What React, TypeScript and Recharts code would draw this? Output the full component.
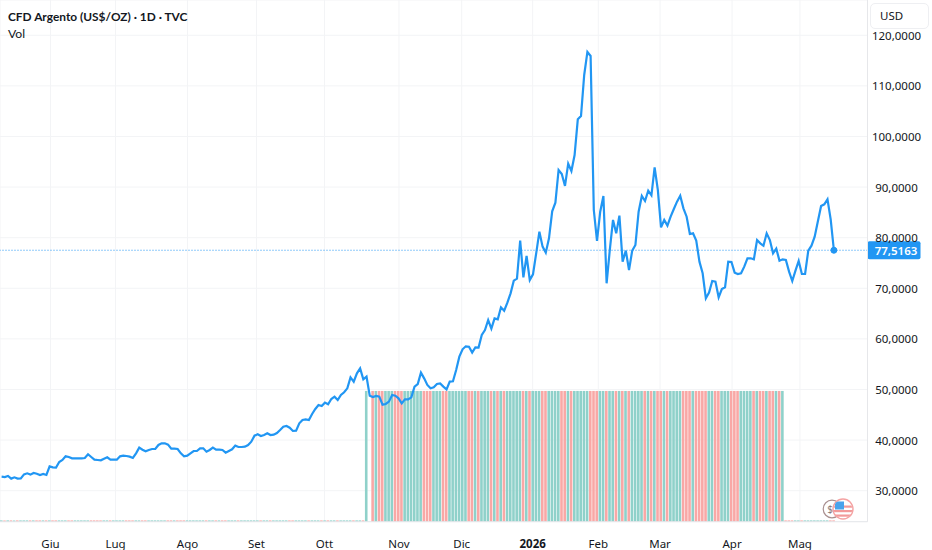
import React from "react";
import {
  ComposedChart, Line, Bar, Cell, XAxis, YAxis, CartesianGrid, ReferenceLine, ReferenceDot,
} from "recharts";

const closesJunAug = [
  32.77, 32.7, 32.9, 32.38, 32.64, 32.38, 32.44, 33.23, 33.43, 33.17, 33.5, 33.36, 33.1, 33.3, 33.1,
  34.81, 34.62, 34.55, 35.67, 36.06, 36.79, 36.66, 36.39, 36.39, 36.39, 36.39, 36.46, 37.2, 36.66, 36.13,
  36.06, 36.0, 36.33, 36.6, 36.13, 36.13, 36.13, 36.79, 36.92, 36.85, 36.72, 36.46, 37.38, 38.5, 38.1,
  37.78, 38.04, 38.24, 38.24, 39.03, 39.36, 39.36, 39.1, 38.3, 38.3, 38.24, 37.38, 36.79, 36.92, 37.38,
  37.84, 37.84, 38.37, 38.37, 37.71, 38.04, 38.5, 38.1, 38.1, 38.04, 37.51, 37.84, 38.17, 38.9, 38.63,
  38.63, 38.7, 39.03, 39.69,
];
const closesSepNov = [
  40.87, 41.14, 40.81, 41.0, 41.34, 41.0, 41.07, 41.4, 42.0, 42.65, 42.78, 42.45, 41.8, 41.86, 43.31,
  43.97, 44.1, 43.97, 45.16, 46.14, 46.93, 46.74, 47.4, 47.07, 48.12, 48.58, 47.92, 48.91, 49.44, 50.23,
  52.4, 51.55, 53.19, 54.18, 52.0, 52.53, 48.78, 48.5, 48.71, 48.58, 47.0, 47.13, 47.6, 48.91, 48.78,
  48.25, 47.26, 48.05, 48.05, 48.45, 50.56, 51.08, 53.32, 52.2, 50.9, 50.23, 50.43, 51.08, 51.2, 50.56,
  50.03, 51.55, 51.61, 53.85, 56.49, 57.94, 58.53, 58.46,
];
const closesDecJan = [
  57.28, 58.33, 58.27, 60.77, 61.76, 63.73, 62.02, 64.06, 63.87, 66.24, 65.58, 67.16, 69.0, 71.5, 71.9,
  79.41, 72.17, 76.38, 71.64, 72.76, 76.91, 81.19, 78.23, 77.04, 79.87, 85.21, 86.92, 93.38, 92.59, 90.22,
  94.63, 93.18, 96.34, 103.39, 104.05, 112.15, 116.7, 115.91,
];
const closesFebMay = [
  85.47, 79.35, 85.14, 88.24, 70.98, 77.57, 83.5, 80.86, 84.35, 75.26, 77.44, 73.62, 77.44, 78.56, 85.14,
  88.24, 87.25, 89.29, 88.37, 93.91, 89.43, 82.05, 83.5, 82.38, 84.16, 85.67, 87.12, 88.3, 85.8, 84.15,
  80.73, 80.86, 79.41, 75.26, 72.96, 68.0, 69.14, 71.44, 71.31, 68.21, 69.86, 70.19, 75.26, 75.2, 73.09,
  72.82, 72.96, 74.27, 75.92, 75.92, 75.72, 79.54, 78.88, 78.42, 80.86, 79.54, 76.91, 77.83, 75.46, 75.72,
  75.59, 73.29, 71.44, 73.48, 75.39, 72.82, 72.82, 77.44, 78.42, 80.2, 83.23, 86.26, 86.59, 87.58, 83.63,
  77.5163,
];
const closes = [...closesJunAug, ...closesSepNov, ...closesDecJan, ...closesFebMay];

const firstFullVolumeDay = 114;
const lastFullVolumeDay = 244;
const fullVolume = 100;
const trailingVolume = 1;
const missingVolumeDay = 115;

const priceTicks = [30, 40, 50, 60, 70, 80, 90, 100, 110, 120];
const monthTicks = [15.28, 35.58, 58.07, 79.63, 100.87, 124.14, 143.73, 165.9, 186.4, 205.7, 228.2, 249.4];
const monthLabels = ["Giu", "Lug", "Ago", "Set", "Ott", "Nov", "Dic", "2026", "Feb", "Mar", "Apr", "Mag"];
const lastPrice = 77.5163;

const rows = closes.map((close, day) => {
  const prev = day > 0 ? closes[day - 1] : close;
  const inFull = day >= firstFullVolumeDay && day <= lastFullVolumeDay;
  return {
    day,
    close,
    volume: day === missingVolumeDay ? 0 : inFull ? fullVolume : trailingVolume,
    up: close >= prev,
  };
});

const BLUE = "#2196f3";
const FONT = "'Noto Sans', sans-serif";
const TITLE_FONT = "Lato, 'Noto Sans', sans-serif";
const TEXT = "#131722";

const comma = (v: number, digits: number) => v.toFixed(digits).replace(".", ",");

function MonthTick(props: any) {
  const { x, y, payload } = props;
  const i = monthTicks.indexOf(payload.value);
  const label = monthLabels[i];
  return (
    <text x={x} y={y + 18} textAnchor="middle" fontFamily={FONT} fontSize={11.5}
      fontWeight={label === "2026" ? 700 : 400} fill={TEXT}>
      {label}
    </text>
  );
}

function PriceTick(props: any) {
  const { y, payload } = props;
  return (
    <text x={896.5} y={y + 4.5} textAnchor="middle" fontFamily={FONT} fontSize={11.5} fill={TEXT}>
      {comma(payload.value, 4)}
    </text>
  );
}

function PriceTag(props: any) {
  const { viewBox } = props;
  const left = viewBox.x + viewBox.width;
  return (
    <g>
      <rect x={left} y={viewBox.y - 9} width={53} height={18} rx={2} fill={BLUE} />
      <text x={left + 28.5} y={viewBox.y + 4.5} textAnchor="middle" fontFamily={FONT}
        fontSize={11.5} fontWeight={600} fill="#ffffff">
        {comma(lastPrice, 4)}
      </text>
    </g>
  );
}

function Badge() {
  return (
    <svg width={40} height={28} style={{ position: "absolute", left: 820, top: 495 }}>
      <defs>
        <clipPath id="flagClip"><circle cx={23} cy={14} r={9.4} /></clipPath>
      </defs>
      <circle cx={12} cy={14} r={8.8} fill="#fff" stroke="#a98f8f" strokeWidth={1.2} />
      <text x={10} y={18} fontSize={10} fontFamily={FONT} fill="#8a7a7a" textAnchor="middle">$</text>
      <circle cx={23} cy={14} r={10} fill="#fff" stroke="#f4a3a3" strokeWidth={1.4} />
      <g clipPath="url(#flagClip)">
        <rect x={13} y={10.5} width={20} height={2.2} fill="#f29a9a" />
        <rect x={13} y={15} width={20} height={2.2} fill="#f29a9a" />
        <rect x={13} y={19.5} width={20} height={2.2} fill="#f29a9a" />
        <rect x={15} y={6.5} width={9} height={8} fill="#4aa3ec" />
      </g>
    </svg>
  );
}

export default function App() {
  return (
    <div style={{ position: "absolute", left: 0, top: 0, width: 932, height: 550, overflow: "hidden", background: "#fff" }}>
      <ComposedChart width={932} height={550} data={rows} margin={{ top: 0, right: 0, bottom: 0, left: 0 }}>
        <CartesianGrid stroke="#f3f4f6" strokeWidth={1} xAxisId={0} yAxisId="price" />
        <XAxis dataKey="day" type="number" domain={[-0.5, 270.5]} ticks={monthTicks} interval={0}
          height={28.3} axisLine={{ stroke: "#e6e7ea" }} tickLine={false} tick={<MonthTick />} allowDecimals />
        <YAxis yAxisId="price" orientation="right" width={64.5} domain={[23.87, 126.97]} ticks={priceTicks}
          interval={0} axisLine={{ stroke: "#e6e7ea" }} tickLine={false} tick={<PriceTick />} />
        <YAxis yAxisId="vol" hide domain={[0, 399]} />
        <Bar yAxisId="vol" dataKey="volume" barSize={2.6} isAnimationActive={false}>
          {rows.map((r) => (
            <Cell key={r.day} fill={r.up ? "#8fd1ca" : "#f9a8a6"} />
          ))}
        </Bar>
        <ReferenceLine yAxisId="price" y={lastPrice} stroke={BLUE} strokeWidth={1} strokeDasharray="1 2"
          label={<PriceTag />} />
        <Line yAxisId="price" dataKey="close" type="linear" stroke={BLUE} strokeWidth={2.2} dot={false}
          activeDot={false} isAnimationActive={false} />
        <ReferenceDot yAxisId="price" x={closes.length - 1} y={lastPrice} r={3} fill={BLUE} stroke={BLUE} />
      </ComposedChart>
      <div style={{ position: "absolute", left: 8, top: 8.5, fontFamily: TITLE_FONT, fontSize: 11.9, fontWeight: 700, color: TEXT, whiteSpace: "nowrap" }}>
        CFD Argento (US$/OZ) · 1D · TVC
      </div>
      <div style={{ position: "absolute", left: 8, top: 26, fontFamily: TITLE_FONT, fontSize: 12.2, color: TEXT }}>Vol</div>
      <div style={{ position: "absolute", left: 870, top: 3, width: 59, height: 26, boxSizing: "border-box", background: "#fff", border: "1px solid #eeeff2", borderRadius: 5, fontFamily: FONT, fontSize: 11.5, color: TEXT, lineHeight: "24px", paddingLeft: 9 }}>
        USD
      </div>
      <Badge />
    </div>
  );
}
